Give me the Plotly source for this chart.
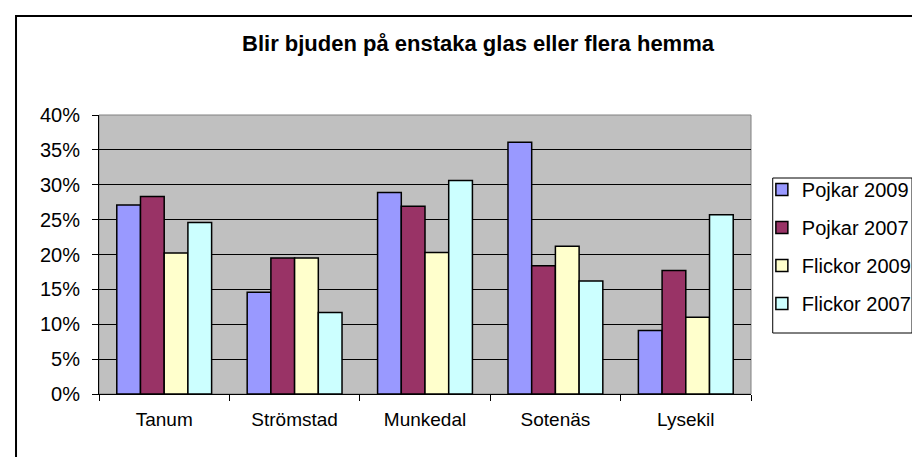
import plotly.graph_objects as go

categories = ["Tanum", "Strömstad", "Munkedal", "Sotenäs", "Lysekil"]
pojkar_2009 = [27.1, 14.6, 28.9, 36.1, 9.1]
pojkar_2007 = [28.3, 19.5, 26.9, 18.4, 17.7]
flickor_2009 = [20.2, 19.5, 20.3, 21.2, 11.0]
flickor_2007 = [24.6, 11.7, 30.6, 16.2, 25.7]
series_names = ["Pojkar 2009", "Pojkar 2007", "Flickor 2009", "Flickor 2007"]
series_values = [pojkar_2009, pojkar_2007, flickor_2009, flickor_2007]
colors = ["#9999FF", "#993366", "#FFFFCC", "#CCFFFF"]
tick_vals = [0, 5, 10, 15, 20, 25, 30, 35, 40]
tick_text = [f"{v}%" for v in tick_vals]

W, H = 920, 457
L, R, T, B = 91, 169, 107, 71
PW, PH = W - L - R, H - T - B


def px_x(x):
    return (x - L) / PW


def px_y(y):
    return (H - B - y) / PH


fig = go.Figure()
for i, (name, vals, col) in enumerate(zip(series_names, series_values, colors)):
    fig.add_trace(go.Bar(
        x=categories, y=vals, name=name, legendgroup=f"g{i}",
        marker=dict(color=col, line=dict(color="black", width=1.5)),
    ))

font = "Liberation Sans, Arial, sans-serif"
fig.update_layout(
    width=W, height=H,
    margin=dict(l=L, r=R, t=T, b=B),
    paper_bgcolor="white",
    plot_bgcolor="#C0C0C0",
    barmode="group",
    bargap=0.2727,
    bargroupgap=0,
    font=dict(family=font, size=19, color="black"),
    title=dict(
        text="<b>Blir bjuden på enstaka glas eller flera hemma</b>",
        x=470 / W, xanchor="center", y=1 - 35 / H, yanchor="middle",
        font=dict(family=font, size=22, color="black"),
    ),
    legend=dict(
        x=px_x(762), xanchor="left",
        y=px_y(162), yanchor="top",
        borderwidth=0, bgcolor="rgba(0,0,0,0)",
        font=dict(family=font, size=20, color="black"),
        tracegroupgap=9,
    ),
    showlegend=True,
)
fig.update_yaxes(
    range=[0, 40], tickvals=tick_vals, ticktext=tick_text,
    showgrid=True, gridcolor="black", gridwidth=1,
    showline=True, linecolor="black", linewidth=1,
    ticks="outside", ticklen=6, tickcolor="black",
    tickfont=dict(size=20), zeroline=False, ticklabelstandoff=8,
)
fig.update_xaxes(
    showline=True, linecolor="black", linewidth=1,
    ticks="outside", ticklen=6, tickcolor="black", tickson="boundaries",
    tickfont=dict(size=19), ticklabelstandoff=8,
)
# plot-area border
fig.add_shape(type="rect", xref="paper", yref="paper", x0=0, x1=1, y0=0, y1=1,
              line=dict(color="#808080", width=1), layer="below")
# legend box
fig.add_shape(type="rect", xref="paper", yref="paper",
              x0=px_x(773), x1=px_x(914), y0=px_y(325), y1=px_y(170),
              line=dict(color="black", width=1))
# chart outer border
fig.add_shape(type="rect", xref="paper", yref="paper",
              x0=px_x(7), x1=px_x(930), y0=px_y(470), y1=px_y(8),
              line=dict(color="black", width=2))
fig.write_html("out.html")
